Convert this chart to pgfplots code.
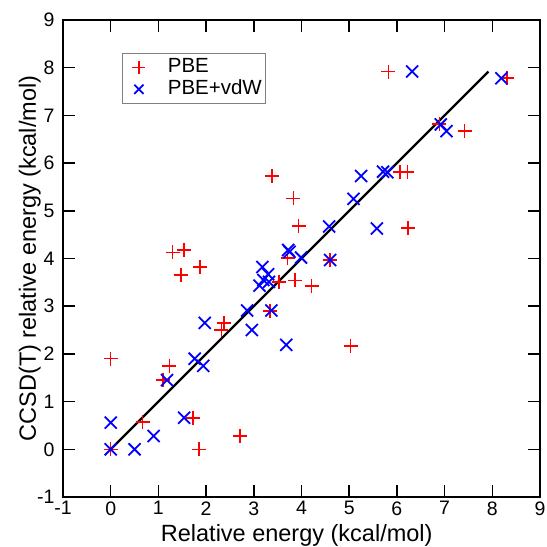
\documentclass[border=0pt]{standalone}
\usepackage{fontspec}
\setmainfont{Liberation Sans}
\usepackage{pgfplots}
\pgfplotsset{compat=1.18}
\begin{document}
\begin{tikzpicture}
\useasboundingbox (-63pt,-50pt) rectangle (484pt,497pt);
\begin{axis}[
  scale only axis, width=477pt, height=477pt,
  at={(0,0)}, anchor=south west,
  xmin=-1, xmax=9, ymin=-1, ymax=9,
  xtick={-1,0,...,9}, ytick={-1,0,...,9},
  tick align=inside, major tick length=12pt,
  axis line style={line width=1.6pt},
  every tick/.style={line width=1.6pt, black},
  /pgf/number format/assume math mode=true,
  tick label style={font=\fontsize{19.5}{22}\selectfont},
  xticklabel style={yshift=-1pt},
  yticklabel style={xshift=-5pt},
  xlabel={Relative energy (kcal/mol)},
  ylabel={CCSD(T) relative energy (kcal/mol)},
  label style={font=\fontsize{23.5}{26}\selectfont},
  xlabel style={at={(axis description cs:0.49,-0.0943)}, anchor=base},
  ylabel style={at={(axis description cs:-0.057,0.5)}, anchor=base},
  legend style={at={(axis cs:0.243,8.31)}, anchor=north west,
    draw=gray, line width=0.8pt, font=\fontsize{20.5}{24}\selectfont,
    inner xsep=3pt, inner ysep=3pt, row sep=0pt,
    nodes={inner sep=1pt, text height=15.5pt, text depth=4.5pt},
    /tikz/every odd column/.append style={column sep=19pt}},
  legend cell align=left,
  legend image code/.code={\draw[#1] plot coordinates {(0.3cm,0cm)}; \path (-0.15cm,0cm) (0.6cm,0cm);},
]
\addplot[forget plot, only marks, mark=+, mark size=7pt, red, mark options={line width=1.5pt}] coordinates {
(0,1.90) (0,0) (0.67,0.57) (1.10,1.45) (1.23,1.75) (1.30,4.13) (1.54,4.18)
(1.47,3.65) (1.87,3.82) (1.73,0.66) (1.85,0.0) (2.71,0.28) (2.37,2.65)
(2.32,2.50) (3.34,2.90) (3.53,3.51) (3.86,3.54) (3.71,4.01) (3.38,5.73)
(3.83,5.26) (3.94,4.68) (4.60,3.97) (4.21,3.42) (5.03,2.17) (5.82,7.92)
(8.31,7.78) (6.89,6.82) (7.42,6.67) (6.07,5.81) (6.22,5.81) (6.23,4.64)
};
\addplot[forget plot, only marks, mark=x, mark size=8.5pt, blue, mark options={line width=1.8pt}] coordinates {
(0,0.56) (0,0) (0.50,0) (0.90,0.28) (1.54,0.66) (1.18,1.45) (1.76,1.90)
(1.94,1.75) (1.97,2.65) (2.86,2.91) (2.96,2.50) (3.37,2.91) (3.12,3.43)
(3.18,3.82) (3.20,3.55) (3.30,3.67) (3.32,3.51) (3.68,2.19) (3.72,4.18)
(3.75,4.14) (3.99,4.02) (4.58,4.67) (4.60,3.97) (5.09,5.25) (5.25,5.73)
(5.71,5.82) (5.80,5.81) (5.58,4.63) (6.32,7.92) (6.92,6.81) (7.04,6.67)
(8.19,7.78)
};
\addplot[forget plot, black, line width=2.4pt] coordinates {(0,0) (7.92,7.92)};
\addlegendimage{only marks, mark=+, mark size=6.5pt, red, mark options={line width=1.5pt}}
\addlegendentry{PBE}
\addlegendimage{only marks, mark=x, mark size=6.5pt, blue, mark options={line width=1.8pt}}
\addlegendentry{PBE+vdW}
\end{axis}
\end{tikzpicture}
\end{document}
